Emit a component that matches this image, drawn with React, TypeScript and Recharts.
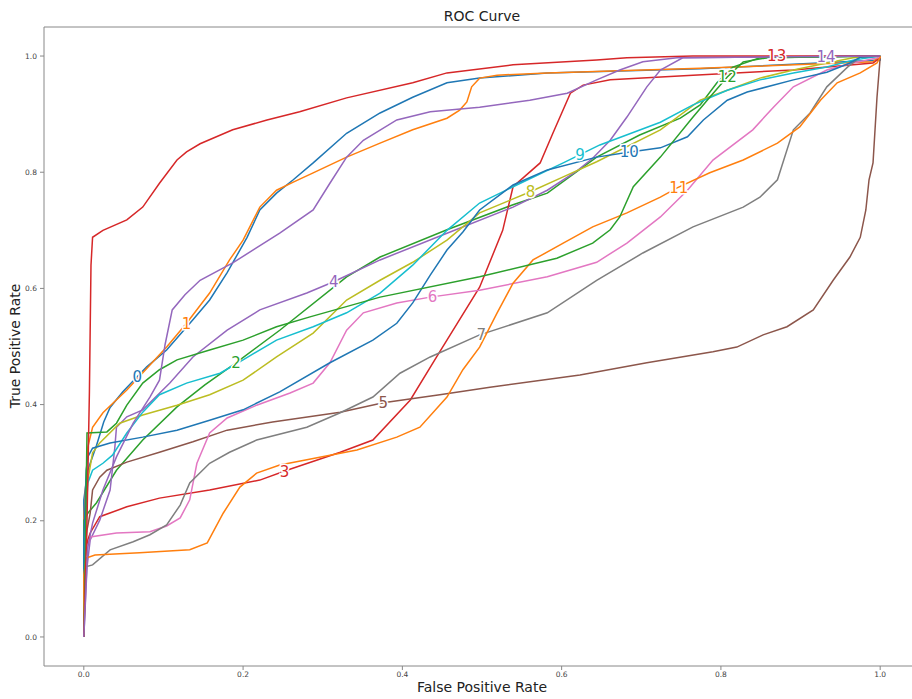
import { LineChart, Line, XAxis, YAxis, ReferenceLine, ReferenceDot } from "recharts";

// matplotlib tab10 cycle
const COLORS = [
	"#1f77b4", "#ff7f0e", "#2ca02c", "#d62728", "#9467bd",
	"#8c564b", "#e377c2", "#7f7f7f", "#bcbd22", "#17becf",
];

const TICKS = [0, 0.2, 0.4, 0.6, 0.8, 1.0];

// x positions of the inline labels (evenly spaced, as labelLines does)
const LABEL_X = [0.067, 0.129, 0.191, 0.252, 0.314, 0.376, 0.438, 0.499, 0.561, 0.623, 0.685, 0.747, 0.808, 0.87, 0.932];

type Pt = [number, number]; // [fpr, tpr]

const roc0: Pt[] = [[0, 0], [0, 0.236], [0.005, 0.287], [0.016, 0.33], [0.025, 0.37], [0.033, 0.395], [0.049, 0.422], [0.067, 0.448], [0.079, 0.465], [0.104, 0.494], [0.137, 0.546], [0.158, 0.58], [0.18, 0.627], [0.205, 0.688], [0.221, 0.735], [0.242, 0.764], [0.263, 0.787], [0.288, 0.816], [0.33, 0.867], [0.372, 0.902], [0.413, 0.929], [0.456, 0.954], [0.497, 0.962], [0.582, 0.971], [0.774, 0.978], [1, 0.993], [1, 1]];
const roc1: Pt[] = [[0, 0], [0, 0.2], [0.005, 0.327], [0.011, 0.361], [0.024, 0.386], [0.054, 0.425], [0.104, 0.499], [0.129, 0.54], [0.158, 0.592], [0.183, 0.649], [0.2, 0.683], [0.221, 0.74], [0.242, 0.769], [0.263, 0.783], [0.288, 0.799], [0.33, 0.826], [0.372, 0.85], [0.413, 0.873], [0.456, 0.893], [0.472, 0.907], [0.481, 0.921], [0.487, 0.947], [0.497, 0.962], [0.519, 0.967], [0.582, 0.971], [0.774, 0.979], [0.991, 0.99], [1, 1]];
const roc2: Pt[] = [[0, 0], [0, 0.2], [0.005, 0.213], [0.016, 0.231], [0.041, 0.287], [0.074, 0.339], [0.117, 0.396], [0.152, 0.434], [0.191, 0.472], [0.246, 0.528], [0.33, 0.62], [0.372, 0.654], [0.456, 0.701], [0.539, 0.744], [0.582, 0.764], [0.644, 0.826], [0.698, 0.864], [0.749, 0.893], [0.774, 0.916], [0.795, 0.954], [0.815, 0.981], [0.849, 0.997], [1, 1]];
const roc3: Pt[] = [[0, 0], [0.001, 0.133], [0.005, 0.167], [0.008, 0.179], [0.02, 0.207], [0.054, 0.224], [0.095, 0.239], [0.158, 0.253], [0.221, 0.27], [0.255, 0.287], [0.322, 0.318], [0.363, 0.339], [0.41, 0.408], [0.443, 0.482], [0.497, 0.602], [0.526, 0.7], [0.539, 0.775], [0.573, 0.816], [0.589, 0.867], [0.611, 0.936], [0.627, 0.95], [0.661, 0.959], [0.765, 0.967], [0.891, 0.976], [0.991, 0.988], [1, 0.997], [1, 1]];
const roc4: Pt[] = [[0, 0], [0.004, 0.12], [0.008, 0.167], [0.02, 0.201], [0.033, 0.253], [0.039, 0.327], [0.041, 0.361], [0.054, 0.379], [0.074, 0.391], [0.108, 0.437], [0.137, 0.482], [0.18, 0.528], [0.221, 0.563], [0.28, 0.592], [0.313, 0.611], [0.372, 0.649], [0.456, 0.695], [0.539, 0.74], [0.582, 0.769], [0.617, 0.8], [0.639, 0.824], [0.661, 0.855], [0.682, 0.895], [0.707, 0.947], [0.724, 0.976], [0.752, 0.997], [1, 1]];
const roc5: Pt[] = [[0, 0], [0.001, 0.133], [0.004, 0.184], [0.008, 0.213], [0.011, 0.253], [0.02, 0.275], [0.029, 0.287], [0.054, 0.301], [0.095, 0.318], [0.137, 0.336], [0.18, 0.356], [0.237, 0.37], [0.322, 0.387], [0.376, 0.403], [0.447, 0.417], [0.51, 0.43], [0.623, 0.451], [0.707, 0.472], [0.79, 0.491], [0.82, 0.499], [0.853, 0.52], [0.883, 0.534], [0.916, 0.563], [0.941, 0.614], [0.962, 0.654], [0.975, 0.688], [0.982, 0.735], [0.986, 0.787], [0.991, 0.816], [0.996, 0.929], [1, 0.998], [1, 1]];
const roc6: Pt[] = [[0, 0], [0.001, 0.133], [0.008, 0.172], [0.041, 0.179], [0.083, 0.181], [0.104, 0.191], [0.121, 0.205], [0.133, 0.236], [0.142, 0.299], [0.158, 0.351], [0.18, 0.377], [0.217, 0.399], [0.259, 0.42], [0.288, 0.437], [0.309, 0.472], [0.33, 0.528], [0.351, 0.558], [0.393, 0.575], [0.435, 0.585], [0.497, 0.597], [0.582, 0.62], [0.644, 0.645], [0.682, 0.678], [0.724, 0.723], [0.758, 0.769], [0.79, 0.821], [0.84, 0.873], [0.866, 0.912], [0.891, 0.947], [0.933, 0.976], [0.966, 0.988], [1, 0.998], [1, 1]];
const roc7: Pt[] = [[0, 0], [0, 0.12], [0.011, 0.124], [0.033, 0.15], [0.062, 0.164], [0.083, 0.176], [0.104, 0.193], [0.121, 0.227], [0.133, 0.265], [0.158, 0.299], [0.183, 0.318], [0.217, 0.339], [0.28, 0.361], [0.322, 0.386], [0.363, 0.413], [0.397, 0.454], [0.435, 0.482], [0.497, 0.52], [0.582, 0.558], [0.644, 0.614], [0.702, 0.661], [0.765, 0.706], [0.828, 0.74], [0.849, 0.757], [0.871, 0.787], [0.891, 0.873], [0.912, 0.902], [0.933, 0.947], [0.959, 0.981], [0.975, 0.998], [1, 1]];
const roc8: Pt[] = [[0, 0], [0.001, 0.2], [0.005, 0.27], [0.011, 0.317], [0.02, 0.334], [0.045, 0.368], [0.074, 0.382], [0.117, 0.399], [0.158, 0.417], [0.2, 0.442], [0.242, 0.482], [0.288, 0.523], [0.33, 0.58], [0.372, 0.614], [0.413, 0.645], [0.456, 0.683], [0.497, 0.73], [0.56, 0.766], [0.602, 0.792], [0.644, 0.818], [0.724, 0.873], [0.774, 0.924], [0.808, 0.941], [0.849, 0.962], [0.891, 0.976], [0.933, 0.988], [0.966, 0.997], [1, 1]];
const roc9: Pt[] = [[0, 0], [0.001, 0.167], [0.005, 0.265], [0.011, 0.287], [0.024, 0.299], [0.036, 0.313], [0.054, 0.351], [0.074, 0.387], [0.095, 0.417], [0.129, 0.437], [0.171, 0.454], [0.2, 0.477], [0.242, 0.511], [0.288, 0.534], [0.33, 0.558], [0.372, 0.592], [0.413, 0.64], [0.456, 0.7], [0.497, 0.747], [0.539, 0.775], [0.602, 0.816], [0.648, 0.847], [0.724, 0.886], [0.765, 0.916], [0.808, 0.941], [0.849, 0.959], [0.891, 0.971], [0.933, 0.981], [0.966, 0.993], [1, 1]];
const roc10: Pt[] = [[0, 0], [0, 0.167], [0.003, 0.287], [0.005, 0.31], [0.011, 0.325], [0.033, 0.334], [0.074, 0.344], [0.117, 0.356], [0.158, 0.373], [0.2, 0.391], [0.246, 0.422], [0.309, 0.472], [0.363, 0.511], [0.393, 0.54], [0.413, 0.575], [0.435, 0.623], [0.456, 0.666], [0.476, 0.697], [0.497, 0.735], [0.539, 0.778], [0.582, 0.804], [0.644, 0.826], [0.686, 0.835], [0.724, 0.842], [0.758, 0.861], [0.778, 0.89], [0.808, 0.924], [0.833, 0.938], [0.891, 0.959], [0.933, 0.972], [0.962, 0.988], [0.975, 0.998], [1, 1]];
const roc11: Pt[] = [[0, 0], [0, 0.107], [0.003, 0.136], [0.014, 0.141], [0.07, 0.145], [0.133, 0.15], [0.155, 0.162], [0.175, 0.213], [0.196, 0.258], [0.217, 0.282], [0.246, 0.296], [0.28, 0.305], [0.343, 0.322], [0.393, 0.344], [0.422, 0.361], [0.456, 0.413], [0.476, 0.46], [0.497, 0.499], [0.519, 0.558], [0.539, 0.609], [0.564, 0.649], [0.602, 0.678], [0.639, 0.706], [0.682, 0.73], [0.724, 0.757], [0.745, 0.773], [0.786, 0.799], [0.828, 0.821], [0.871, 0.85], [0.899, 0.878], [0.925, 0.924], [0.946, 0.954], [0.975, 0.971], [0.996, 0.988], [1, 0.998], [1, 1]];
const roc12: Pt[] = [[0, 0], [0.001, 0.064], [0.004, 0.351], [0.029, 0.353], [0.041, 0.368], [0.054, 0.399], [0.074, 0.437], [0.095, 0.46], [0.117, 0.477], [0.158, 0.494], [0.2, 0.511], [0.242, 0.534], [0.284, 0.551], [0.372, 0.585], [0.497, 0.62], [0.594, 0.652], [0.639, 0.678], [0.661, 0.701], [0.673, 0.723], [0.69, 0.775], [0.724, 0.826], [0.765, 0.895], [0.786, 0.929], [0.808, 0.964], [0.828, 0.99], [0.858, 0.997], [1, 1]];
const roc13: Pt[] = [[0, 0], [0.004, 0.2], [0.007, 0.42], [0.009, 0.64], [0.011, 0.688], [0.024, 0.7], [0.054, 0.718], [0.074, 0.74], [0.095, 0.781], [0.117, 0.821], [0.129, 0.835], [0.146, 0.849], [0.187, 0.873], [0.23, 0.89], [0.271, 0.904], [0.33, 0.928], [0.413, 0.954], [0.456, 0.971], [0.539, 0.985], [0.644, 0.993], [0.682, 0.997], [0.765, 1], [1, 1]];
const roc14: Pt[] = [[0, 0], [0.003, 0.098], [0.005, 0.155], [0.011, 0.196], [0.024, 0.253], [0.041, 0.31], [0.062, 0.368], [0.083, 0.413], [0.095, 0.442], [0.102, 0.503], [0.111, 0.563], [0.127, 0.589], [0.146, 0.614], [0.187, 0.644], [0.246, 0.695], [0.288, 0.735], [0.309, 0.781], [0.33, 0.826], [0.351, 0.855], [0.393, 0.89], [0.435, 0.904], [0.497, 0.912], [0.56, 0.924], [0.607, 0.936], [0.644, 0.959], [0.673, 0.976], [0.702, 0.99], [0.745, 0.997], [1, 1]];

const CURVES = [roc0, roc1, roc2, roc3, roc4, roc5, roc6, roc7, roc8, roc9, roc10, roc11, roc12, roc13, roc14];

const FONT = "DejaVu Sans, sans-serif";

// y on a curve at a given x, only used to sit the label on its line
function yAt(pts: Pt[], x: number) {
	for (let i = 0; i < pts.length - 1; i++) {
		const [x0, y0] = pts[i];
		const [x1, y1] = pts[i + 1];
		if (x1 > x0 && x >= x0 && x <= x1) return y0 + ((y1 - y0) * (x - x0)) / (x1 - x0);
	}
	return pts[pts.length - 1][1];
}

const series = CURVES.map((pts, i) => ({
	name: String(i),
	color: COLORS[i % COLORS.length],
	data: pts.map(([x, y]) => ({ x, y })),
	labelX: LABEL_X[i],
	labelY: yAt(pts, LABEL_X[i]),
}));

const tickStyle = { fontSize: 7.5, fill: "#444", fontFamily: FONT };

export default function App() {
	return (
		<div style={{ position: "absolute", left: 0, top: 0, width: 912, height: 699, overflow: "hidden", background: "#fff", fontFamily: FONT }}>
			<LineChart width={930} height={699} margin={{ top: 27, right: 10, bottom: 0, left: 0 }}>
				<XAxis
					type="number"
					dataKey="x"
					domain={[-0.05, 1.05]}
					ticks={TICKS}
					tickFormatter={(v: number) => v.toFixed(1)}
					allowDuplicatedCategory={false}
					height={33}
					tickSize={4}
					tickMargin={2}
					tick={tickStyle}
					stroke="#888"
				/>
				<YAxis
					type="number"
					domain={[-0.05, 1.05]}
					ticks={TICKS}
					tickFormatter={(v: number) => v.toFixed(1)}
					width={44}
					tickSize={4}
					tickMargin={3}
					tick={tickStyle}
					stroke="#888"
				/>
				<ReferenceLine y={1.05} stroke="#888" />
				{series.map((s) => (
					<Line
						key={s.name}
						data={s.data}
						dataKey="y"
						type="linear"
						stroke={s.color}
						strokeWidth={1.5}
						dot={false}
						isAnimationActive={false}
					/>
				))}
				{series.map((s) => (
					<ReferenceDot
						key={"lbl" + s.name}
						x={s.labelX}
						y={s.labelY}
						shape={(p: any) => (
							<text
								x={p.cx}
								y={p.cy}
								dy="0.36em"
								textAnchor="middle"
								fontSize={15}
								fill={s.color}
								stroke="#fff"
								strokeWidth={3}
								paintOrder="stroke"
								fontFamily={FONT}
							>
								{s.name}
							</text>
						)}
					/>
				))}
			</LineChart>
			<div style={{ position: "absolute", left: 0, width: 964, top: 8, textAlign: "center", fontSize: 14, color: "#222" }}>ROC Curve</div>
			<div style={{ position: "absolute", left: 0, width: 964, top: 679, textAlign: "center", fontSize: 14, color: "#222" }}>False Positive Rate</div>
			<div
				style={{
					position: "absolute",
					left: 15,
					top: 346,
					fontSize: 14,
					color: "#222",
					whiteSpace: "nowrap",
					transform: "translate(-50%, -50%) rotate(-90deg)",
				}}
			>
				True Positive Rate
			</div>
		</div>
	);
}
